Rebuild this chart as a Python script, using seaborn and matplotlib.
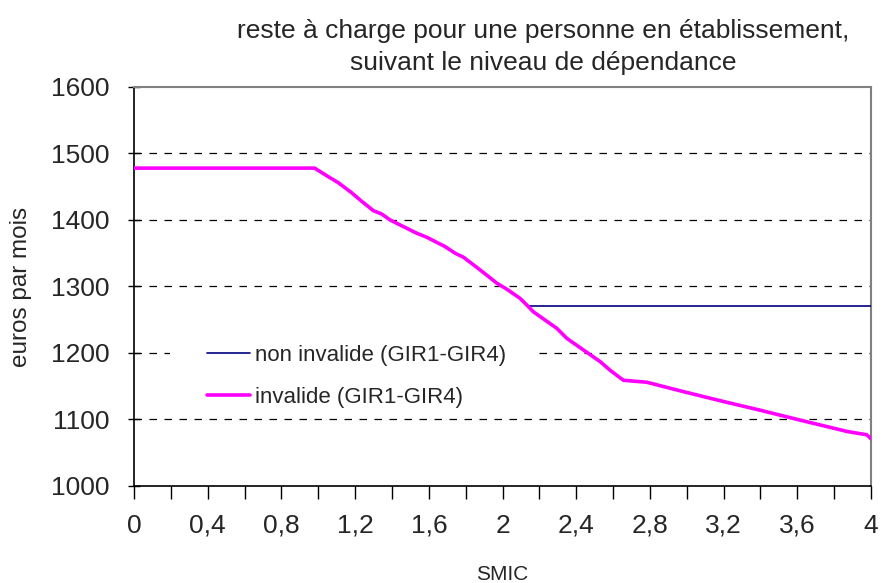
import matplotlib
matplotlib.use("Agg")
import matplotlib.pyplot as plt
import numpy as np
import seaborn as sns
from matplotlib.patches import Rectangle
from matplotlib.ticker import MultipleLocator, FuncFormatter

# reste a charge, invalide (GIR1-GIR4)
smic_inv = [0.0, 0.2, 0.4, 0.6, 0.8, 0.98, 1.055, 1.109, 1.181, 1.236, 1.299, 1.344,
            1.39, 1.535, 1.589, 1.688, 1.743, 1.788, 1.878, 1.969, 2.023, 2.096,
            2.15, 2.167, 2.295, 2.349, 2.53, 2.584, 2.656, 2.783, 2.98, 3.2,
            3.398, 3.616, 3.87, 3.977, 4.0]
euros_inv = [1478, 1478, 1478, 1478, 1478, 1478, 1465, 1456, 1441, 1428, 1414, 1409,
             1400, 1380, 1374, 1360, 1350, 1344, 1325, 1305, 1296, 1282,
             1267, 1262, 1237, 1222, 1187, 1174, 1159, 1156, 1142, 1127,
             1114, 1099, 1082, 1077, 1071]

# reste a charge, non invalide (GIR1-GIR4)
smic_non = [2.146, 2.4, 2.8, 3.2, 3.6, 4.0]
euros_non = [1271, 1271, 1271, 1271, 1271, 1271]

sns.set_style("white")
plt.rcParams['font.family'] = ['Liberation Sans', 'DejaVu Sans']

fig = plt.figure(figsize=(8.83, 5.83), dpi=100)
ax = fig.add_axes([0.1518, 0.1664, 0.8346, 0.6844])

sns.lineplot(x=smic_non, y=euros_non, ax=ax, color='#000080', lw=1.2,
             label='non invalide (GIR1-GIR4)', zorder=3)
sns.lineplot(x=smic_inv, y=euros_inv, ax=ax, color='#FF00FF', lw=2.6,
             label='invalide (GIR1-GIR4)', zorder=3)

ax.set_xlim(0, 4)
ax.set_ylim(1000, 1600)
ax.xaxis.set_major_locator(MultipleLocator(0.4))
ax.xaxis.set_minor_locator(MultipleLocator(0.2))
ax.yaxis.set_major_locator(MultipleLocator(100))
ax.xaxis.set_major_formatter(FuncFormatter(lambda v, p: f'{v:.1f}'.rstrip('0').rstrip('.').replace('.', ',')))

# dashed horizontal grid
for y in [1100, 1200, 1300, 1400, 1500]:
    ax.axhline(y, color='black', lw=0.9, ls=(0, (6, 6)), zorder=0)

# white background of the legend, hides the grid behind it
ax.add_patch(Rectangle((0.049, 0.178), 0.495, 0.208, transform=ax.transAxes,
                       facecolor='white', edgecolor='none', zorder=1))

ax.tick_params(axis='x', which='both', direction='out', length=9, width=1, color='black',
               labelsize=19, pad=11, bottom=True)
ax.tick_params(axis='y', which='major', direction='inout', length=9, width=1, color='black',
               labelsize=19, pad=13, left=True)

for s in ['left', 'bottom']:
    ax.spines[s].set_color('black')
    ax.spines[s].set_linewidth(1.2)
for s in ['top', 'right']:
    ax.spines[s].set_color('#808080')
    ax.spines[s].set_linewidth(1.5)

ax.set_xlabel('SMIC', fontsize=15)
ax.set_ylabel('euros par mois', fontsize=17.5)
ax.xaxis.set_label_coords(0.5, -0.198)
ax.yaxis.set_label_coords(-0.138, 0.5)

fig.text(0.615, 0.947, 'reste à charge pour une personne en établissement,',
         ha='center', va='center', fontsize=19)
fig.text(0.615, 0.892, 'suivant le niveau de dépendance',
         ha='center', va='center', fontsize=19)

leg = ax.legend(loc='center left', bbox_to_anchor=(0.087, 0.274), fontsize=16,
                frameon=False, handlelength=1.95, handletextpad=0.22,
                labelspacing=0.94, borderpad=0.4, borderaxespad=0)

fig.savefig('out.png', dpi=100, facecolor='white')
